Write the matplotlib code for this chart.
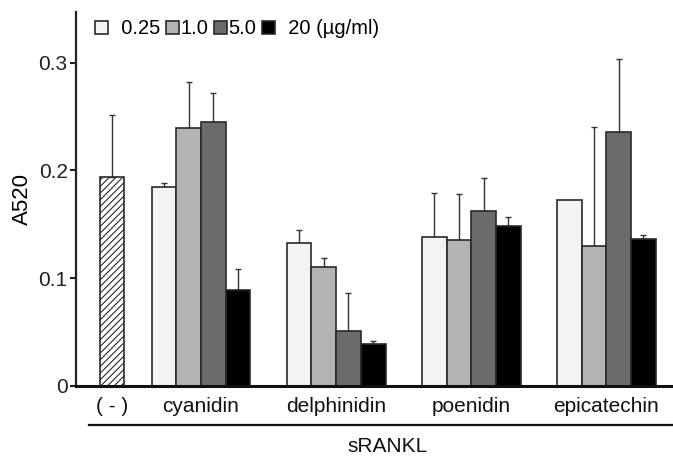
import numpy as np
import matplotlib
matplotlib.use("Agg")
import matplotlib.pyplot as plt

plt.rcParams['font.family'] = ['Liberation Sans', 'DejaVu Sans']
plt.rcParams['hatch.linewidth'] = 0.8
plt.rcParams['hatch.color'] = '#333333'

# ---- data ----
compounds = ["cyanidin", "delphinidin", "poenidin", "epicatechin"]
doses = ["0.25", "1.0", "5.0", "20 (\u00b5g/ml)"]
control_label = "( - )"
control_value = 0.194
control_err = 0.057

values = {
    "0.25": [0.185, 0.1325, 0.138, 0.1727],
    "1.0":  [0.239, 0.110, 0.135, 0.130],
    "5.0":  [0.245, 0.051, 0.162, 0.236],
    "20":   [0.089, 0.039, 0.1486, 0.136],
}
errors = {
    "0.25": [0.003, 0.0125, 0.041, np.nan],
    "1.0":  [0.043, 0.009, 0.043, 0.1105],
    "5.0":  [0.027, 0.035, 0.031, 0.067],
    "20":   [0.020, 0.003, 0.0084, 0.0045],
}
yticks = [0, 0.1, 0.2, 0.3]
ytick_labels = ["0", "0.1", "0.2", "0.3"]
ylabel = "A520"
group_label = "sRANKL"

# ---- style ----
colors = ["#f3f3f3", "#b3b3b3", "#6b6b6b", "#000000"]
edge = "#2a2a2a"

fig = plt.figure(figsize=(6.73, 4.57), dpi=100)
ax = fig.add_axes([0.113, 0.1554, 0.8855, 0.8183])

width = 1.0
centers = 3.6 + 5.47 * np.arange(len(compounds))
offsets = np.array([-1.5, -0.5, 0.5, 1.5]) * width

err_kw = dict(ecolor="#333333", elinewidth=1.0, capsize=2.4, capthick=1.0)

ax.bar([0], [control_value], width=width, color="white", edgecolor=edge,
       linewidth=1.2, hatch="/////",
       yerr=[[0], [control_err]], error_kw=err_kw, zorder=2)

handles = []
for i, (key, lab) in enumerate(zip(values.keys(), doses)):
    v = np.array(values[key])
    e = np.array(errors[key])
    b = ax.bar(centers + offsets[i], v, width=width, color=colors[i],
               edgecolor=edge, linewidth=1.2, zorder=2, label=lab)
    ok = ~np.isnan(e)
    ax.errorbar((centers + offsets[i])[ok], v[ok],
                yerr=[np.zeros(ok.sum()), e[ok]], fmt="none", zorder=1.5,
                **err_kw)
    handles.append(b)

ax.set_xlim(-1.46, 22.67)
ax.set_ylim(0, 0.347)
ax.set_yticks(yticks)
ax.set_yticklabels(ytick_labels, fontsize=15, color="#222222")
ax.set_xticks([0] + list(centers))
ax.set_xticklabels([control_label] + compounds, fontsize=15, color="#111111")
ax.tick_params(axis="x", length=0, pad=8)
ax.tick_params(axis="y", length=4, width=1.5, color="#222222", pad=2)
ax.set_ylabel(ylabel, fontsize=16, labelpad=4)

for s in ["top", "right"]:
    ax.spines[s].set_visible(False)
ax.spines["left"].set_linewidth(1.6)
ax.spines["bottom"].set_linewidth(2.2)
ax.spines["left"].set_color("#222222")
ax.spines["bottom"].set_color("#111111")

# bracket line and group label under the categories
ax.plot([0.022, 1.0], [-0.104, -0.104], transform=ax.transAxes,
        color="#111111", linewidth=1.6, clip_on=False)
ax.text(0.523, -0.163, group_label, transform=ax.transAxes, ha="center",
        va="center", fontsize=15, color="#111111")

leg = ax.legend(handles=handles, labels=["  0.25", "1.0", "5.0", "  20 (\u00b5g/ml)"],
                loc="center left", bbox_to_anchor=(0.032, 0.955), ncol=4,
                frameon=False, fontsize=14.5, handlelength=0.65, handleheight=0.65,
                handletextpad=0.1, columnspacing=0.25, borderaxespad=0.0,
                borderpad=0.0)
for h in leg.legend_handles:
    h.set_linewidth(1.2)

fig.savefig("out.png", dpi=100)
